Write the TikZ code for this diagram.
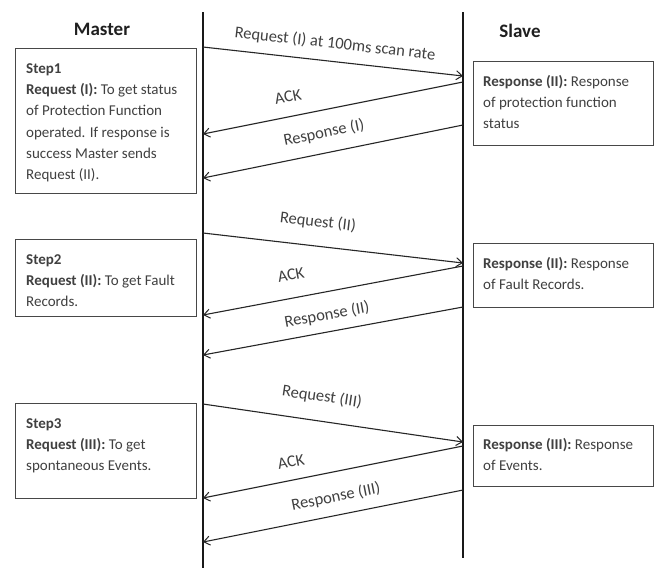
\documentclass[tikz,border=0pt]{standalone}
\usepackage{fontspec}
\setmainfont{Carlito}
\usetikzlibrary{arrows.meta}
\begin{document}
\begin{tikzpicture}[x=1pt,y=-1pt,
  life/.style={line width=2.6pt, draw=black!90},
  msg/.style={line width=1.1pt, draw=black!85, -{Straight Barb[length=6pt,width=9pt,line width=1pt]}},
  box/.style={draw=black!72, line width=1.2pt, minimum width=181pt, anchor=north west, inner sep=0pt},
  rbox/.style={box, minimum width=180pt},
  txt/.style={anchor=north west, align=left, inner sep=0pt, text=black!75, font=\fontsize{15}{21.3}\selectfont},
  lbl/.style={text=black!75, font=\fontsize{16.5}{18}\selectfont, inner sep=0pt},
  head/.style={font=\fontsize{19}{22}\selectfont\bfseries, text=black!88, inner sep=0pt}
]
\useasboundingbox (0,0) rectangle (658,568);
\fill[white] (0,0) rectangle (658,568);

% headers
\node[head] (master) at (102,29) {Master};
\node[head] (slave) at (520,31) {Slave};

% lifelines
\coordinate (mt) at (203,12);
\coordinate (mb) at (203,568);
\coordinate (st) at (463,12);
\coordinate (sb) at (463,558);
\draw[life] (mt) -- (mb);
\draw[life] (st) -- (sb);

% left boxes
\node[box, minimum height=145pt] (b1) at (15,48) {};
\node[txt] (b1t) at (26,63.3) {\textbf{Step1}\\\textbf{Request (I):} To get status\\of Protection Function\\operated. If response is\\success Master sends\\Request (II).};
\node[box, minimum height=77pt] (b2) at (15,239) {};
\node[txt] (b2t) at (26,254.3) {\textbf{Step2}\\\textbf{Request (II):} To get Fault\\Records.};
\node[box, minimum height=95pt] (b3) at (15,403) {};
\node[txt] (b3t) at (26,418.3) {\textbf{Step3}\\\textbf{Request (III):} To get\\spontaneous Events.};

% right boxes
\node[rbox, minimum height=84pt] (r1) at (473,61) {};
\node[txt] (r1t) at (483,74.8) {\textbf{Response (II):} Response\\of protection function\\status};
\node[rbox, minimum height=64pt] (r2) at (473,243) {};
\node[txt] (r2t) at (483,256.8) {\textbf{Response (II):} Response\\of Fault Records.};
\node[rbox, minimum height=61pt] (r3) at (473,425) {};
\node[txt] (r3t) at (483,437.8) {\textbf{Response (III):} Response\\of Events.};

% message end points
\coordinate (m1a) at (203,47);  \coordinate (s1a) at (463,76);
\coordinate (s1b) at (463,82);  \coordinate (m1b) at (203,134);
\coordinate (s1c) at (463,125); \coordinate (m1c) at (203,178);
\coordinate (m2a) at (203,233); \coordinate (s2a) at (463,263);
\coordinate (s2b) at (463,266); \coordinate (m2b) at (203,315);
\coordinate (s2c) at (463,307); \coordinate (m2c) at (203,355);
\coordinate (m3a) at (203,404); \coordinate (s3a) at (463,442);
\coordinate (s3b) at (463,446); \coordinate (m3b) at (203,498);
\coordinate (s3c) at (463,490); \coordinate (m3c) at (203,542);

\draw[msg] (m1a) -- (s1a);
\draw[msg] (s1b) -- (m1b);
\draw[msg] (s1c) -- (m1c);
\draw[msg] (m2a) -- (s2a);
\draw[msg] (s2b) -- (m2b);
\draw[msg] (s2c) -- (m2c);
\draw[msg] (m3a) -- (s3a);
\draw[msg] (s3b) -- (m3b);
\draw[msg] (s3c) -- (m3c);

% labels
\node[lbl, rotate=-6.4] (l1a) at (335,44) {Request (I) at 100ms scan rate};
\node[lbl, rotate=11.3] (l1b) at (288,97) {ACK};
\node[lbl, rotate=11.5] (l1c) at (324,133) {Response (I)};
\node[lbl, rotate=-6.6] (l2a) at (318,222) {Request (II)};
\node[lbl, rotate=10.7] (l2b) at (291,275) {ACK};
\node[lbl, rotate=10.5] (l2c) at (327,315) {Response (II)};
\node[lbl, rotate=-8.3] (l3a) at (322,397) {Request (III)};
\node[lbl, rotate=11.3] (l3b) at (291,462) {ACK};
\node[lbl, rotate=11.3] (l3c) at (336,497) {Response (III)};
\end{tikzpicture}
\end{document}
